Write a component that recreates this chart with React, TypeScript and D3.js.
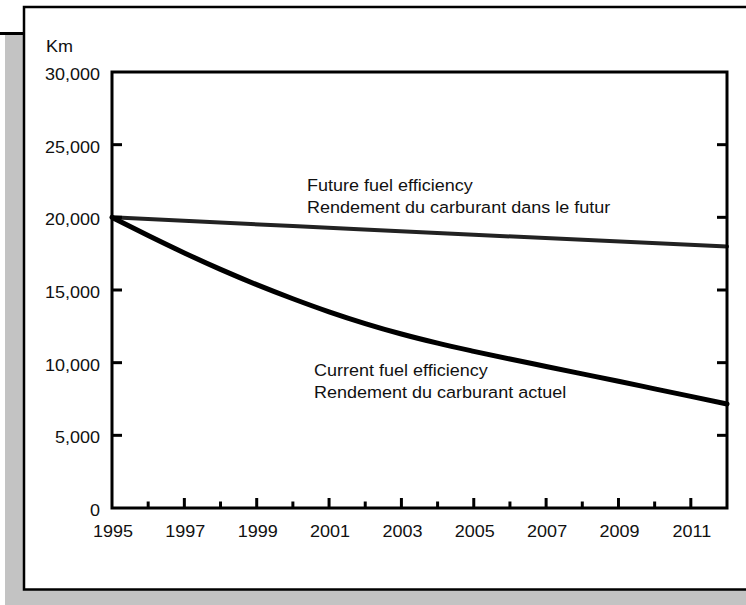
import React from "react";
import * as d3 from "d3";

const years: number[] = [1995, 1996, 1997, 1998, 1999, 2000, 2001, 2002, 2003, 2004, 2005, 2006, 2007, 2008, 2009, 2010, 2011, 2012];
const currentKm: number[] = [20000, 18750, 17550, 16420, 15370, 14400, 13500, 12690, 11970, 11340, 10780, 10250, 9740, 9230, 8720, 8200, 7680, 7160];
const futureYears: number[] = [1995, 2000, 2005, 2012];
const futureKm: number[] = [20000, 19400, 18800, 18000];
const yTicks: number[] = [0, 5000, 10000, 15000, 20000, 25000, 30000];
const xLabelYears: number[] = [1995, 1997, 1999, 2001, 2003, 2005, 2007, 2009, 2011];
const xMinorYears: number[] = [1996, 1998, 2000, 2002, 2004, 2006, 2008, 2010];
const yUnit = "Km";
const futureLabel: string[] = ["Future fuel efficiency", "Rendement du carburant dans le futur"];
const currentLabel: string[] = ["Current fuel efficiency", "Rendement du carburant actuel"];

const W = 746;
const H = 605;
const plot = { left: 112, right: 727, top: 72, bottom: 508 };
const FONT = "'Liberation Sans', Arial, Helvetica, sans-serif";
const FS = 17;
const SX = 1.06;

function T({ x, y, anchor = "start", children }: { x: number; y: number; anchor?: string; children: React.ReactNode }) {
  return (
    <text
      transform={`translate(${x},${y}) scale(${SX},1)`}
      textAnchor={anchor as any}
      fontFamily={FONT}
      fontSize={FS}
      fill="#111"
    >
      {children}
    </text>
  );
}

export default function App() {
  const x = d3.scaleLinear().domain([1995, 2012]).range([plot.left, plot.right]);
  const y = d3.scaleLinear().domain([0, 30000]).range([plot.bottom, plot.top]);
  const fmt = d3.format(",");

  const curLine = d3
    .line<number>()
    .x((_, i) => x(years[i]))
    .y((d) => y(d))
    .curve(d3.curveMonotoneX)(currentKm) as string;

  const futLine = d3
    .line<number>()
    .x((_, i) => x(futureYears[i]))
    .y((d) => y(d))
    .curve(d3.curveMonotoneX)(futureKm) as string;

  const innerTicks = yTicks.filter((t) => t > 0 && t < 30000);

  return (
    <svg
      width={W}
      height={H}
      viewBox={`0 0 ${W} ${H}`}
      style={{ position: "absolute", left: 0, top: 0, background: "#fff" }}
    >
      {/* shadow */}
      <rect x={5} y={35} width={W} height={H} fill="#c3c3c3" />
      <line x1={0} x2={30} y1={33.5} y2={33.5} stroke="#000" strokeWidth={3} />
      {/* frame */}
      <rect x={24} y={7} width={W + 20} height={582.5} fill="#fff" stroke="#000" strokeWidth={2.5} />

      {/* lines */}
      <path d={futLine} fill="none" stroke="#222" strokeWidth={4} strokeLinecap="round" />
      <path d={curLine} fill="none" stroke="#000" strokeWidth={5} strokeLinecap="round" />

      {/* plot box */}
      <rect
        x={plot.left}
        y={plot.top}
        width={plot.right - plot.left}
        height={plot.bottom - plot.top}
        fill="none"
        stroke="#000"
        strokeWidth={3}
      />

      {/* y ticks */}
      {innerTicks.map((t) => (
        <g key={"yt" + t}>
          <line x1={plot.left} x2={plot.left + 10} y1={y(t)} y2={y(t)} stroke="#000" strokeWidth={3} />
          <line x1={plot.right - 10} x2={plot.right} y1={y(t)} y2={y(t)} stroke="#000" strokeWidth={3} />
        </g>
      ))}
      {yTicks.map((t) => (
        <T key={"yl" + t} x={100} y={y(t) + 8} anchor="end">
          {fmt(t)}
        </T>
      ))}
      <T x={46} y={52}>
        {yUnit}
      </T>

      {/* x ticks */}
      {xLabelYears
        .filter((yr) => yr > 1995)
        .map((yr) => (
          <line key={"xm" + yr} x1={x(yr)} x2={x(yr)} y1={plot.bottom} y2={plot.bottom - 10} stroke="#000" strokeWidth={3} />
        ))}
      {xMinorYears.map((yr) => (
        <line key={"xn" + yr} x1={x(yr)} x2={x(yr)} y1={plot.bottom} y2={plot.bottom - 6.5} stroke="#000" strokeWidth={3} />
      ))}
      {xLabelYears.map((yr) => (
        <T key={"xl" + yr} x={x(yr) + 1} y={537} anchor="middle">
          {String(yr)}
        </T>
      ))}

      {/* annotations */}
      <T x={307} y={191}>
        {futureLabel[0]}
      </T>
      <T x={307} y={213}>
        {futureLabel[1]}
      </T>
      <T x={314} y={376}>
        {currentLabel[0]}
      </T>
      <T x={314} y={398}>
        {currentLabel[1]}
      </T>
    </svg>
  );
}
